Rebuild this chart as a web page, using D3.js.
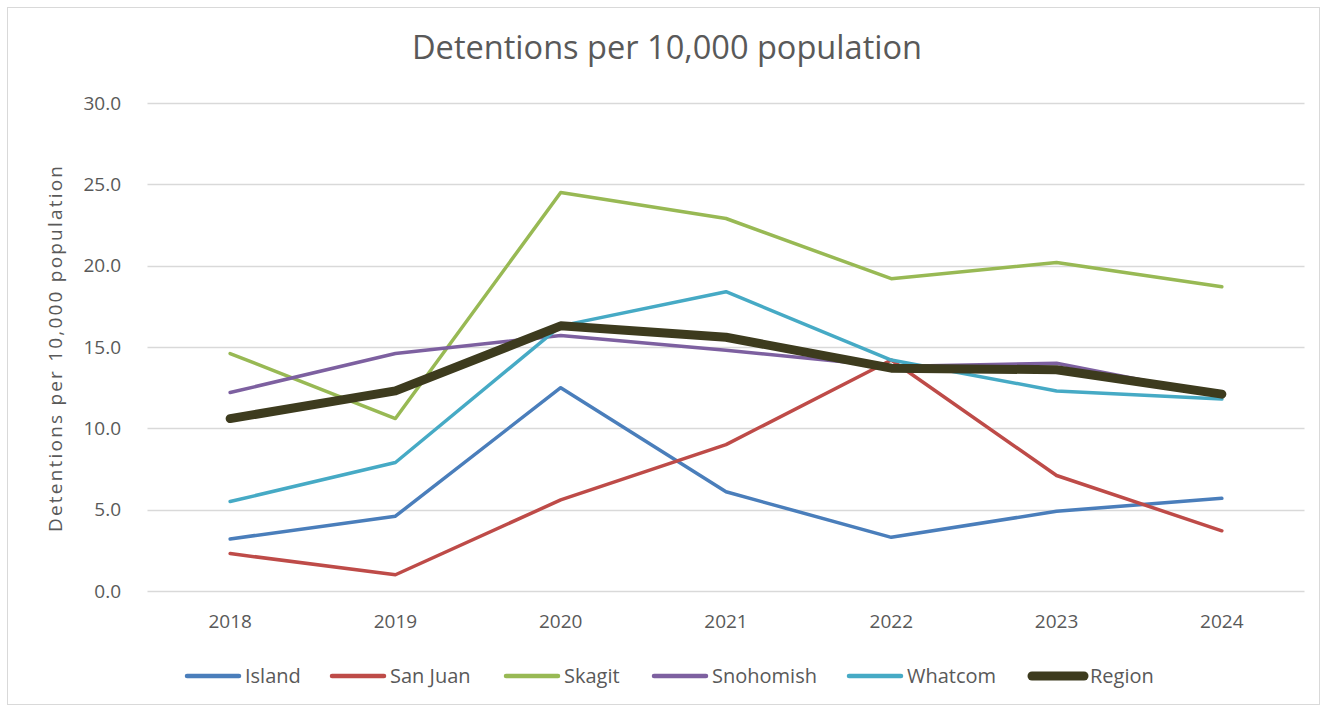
<!DOCTYPE html>
<html><head><meta charset="utf-8">
<script src="https://cdn.jsdelivr.net/npm/d3@7"></script>
<style>body{margin:0;background:#fff;} svg{display:block;}</style>
</head><body>
<svg id="chart" width="1328" height="713"></svg>
<script>
const years = ["2018","2019","2020","2021","2022","2023","2024"];
const island    = [3.2, 4.6, 12.5, 6.1, 3.3, 4.9, 5.7];
const sanJuan   = [2.3, 1.0, 5.6, 9.0, 14.2, 7.1, 3.7];
const skagit    = [14.6, 10.6, 24.5, 22.9, 19.2, 20.2, 18.7];
const snohomish = [12.2, 14.6, 15.7, 14.8, 13.8, 14.0, 12.0];
const whatcom   = [5.5, 7.9, 16.3, 18.4, 14.2, 12.3, 11.8];
const region    = [10.6, 12.3, 16.3, 15.6, 13.7, 13.6, 12.1];
const yTicks = [0, 5, 10, 15, 20, 25, 30];
const seriesNames = ["Island","San Juan","Skagit","Snohomish","Whatcom","Region"];
const seriesColors = ["#4a7ebb","#be4b48","#98b954","#7d60a0","#46aac5","#3d3b1e"];
const seriesValues = [island, sanJuan, skagit, snohomish, whatcom, region];

(function(){
const svg = d3.select("#chart");
const font = "'Open Sans', sans-serif";
svg.append("rect").attr("x",7.5).attr("y",7.5).attr("width",1312).attr("height",697)
  .attr("fill","#fff").attr("stroke","#d9d9d9");

const pLeft = 147.5, pRight = 1304.5, pTop = 103, pBottom = 591;
const x = d3.scaleBand().domain(years).range([pLeft, pRight]);
const y = d3.scaleLinear().domain([0, 30]).range([pBottom, pTop]);

// gridlines
svg.append("g").selectAll("line").data(yTicks).join("line")
  .attr("x1", pLeft).attr("x2", pRight)
  .attr("y1", d => Math.round(y(d)) + 0.5).attr("y2", d => Math.round(y(d)) + 0.5)
  .attr("stroke", "#d9d9d9").attr("stroke-width", 1.3);

// y labels
svg.append("g").selectAll("text").data(yTicks).join("text")
  .attr("x", 121).attr("y", d => y(d)).attr("dy", "0.35em")
  .attr("text-anchor", "end").attr("font-family", font).attr("font-size", 19)
  .attr("fill", "#595959").text(d => d.toFixed(1));

// x labels
svg.append("g").selectAll("text").data(years).join("text")
  .attr("x", d => x(d) + x.bandwidth()/2).attr("y", 628)
  .attr("text-anchor", "middle").attr("font-family", font).attr("font-size", 19)
  .attr("fill", "#595959").text(d => d);

// title
svg.append("text").attr("x", 667).attr("y", 59).attr("text-anchor","middle")
  .attr("font-family", font).attr("font-size", 32).attr("fill", "#595959")
  .attr("textLength", 510).attr("lengthAdjust","spacingAndGlyphs")
  .text("Detentions per 10,000 population");

// y axis title
svg.append("text").attr("transform","translate(62,349) rotate(-90)")
  .attr("text-anchor","middle").attr("font-family", font).attr("font-size", 19)
  .attr("fill","#595959").attr("textLength", 366).attr("lengthAdjust","spacing")
  .text("Detentions per 10,000 population");

// lines
const line = d3.line().x((d,i) => x(years[i]) + x.bandwidth()/2).y(d => y(d));
seriesValues.forEach((vals, k) => {
  const isRegion = seriesNames[k] === "Region";
  svg.append("path").datum(vals).attr("d", line).attr("fill","none")
    .attr("stroke", seriesColors[k]).attr("stroke-width", isRegion ? 9 : 3.5)
    .attr("stroke-linejoin","round").attr("stroke-linecap","round");
});

// legend
const legendX = [185, 330, 504, 652, 847, 1030];
const lg = svg.append("g").selectAll("g").data(seriesNames).join("g")
  .attr("transform", (d,i) => `translate(${legendX[i]},676)`);
lg.append("line").attr("x1",2).attr("x2",54).attr("y1",0).attr("y2",0)
  .attr("stroke",(d,i)=>seriesColors[i]).attr("stroke-width",(d,i)=> d==="Region"?9:4.5)
  .attr("stroke-linecap","round");
lg.append("text").attr("x",60).attr("y",6.5)
  .attr("font-family",font).attr("font-size",20).attr("fill","#595959").text(d=>d);
})();
</script>
</body></html>
